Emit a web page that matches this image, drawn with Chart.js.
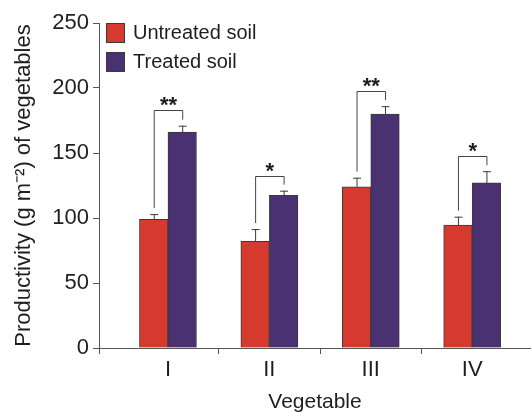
<!DOCTYPE html>
<html>
<head>
<meta charset="utf-8">
<script src="https://cdn.jsdelivr.net/npm/chart.js@4/dist/chart.umd.min.js"></script>
<style>
  html, body { margin: 0; padding: 0; background: #fff; }
  #wrap { width: 531px; height: 412px; position: relative; }
</style>
</head>
<body>
<div id="wrap"><canvas id="chart"></canvas></div>
<script>
const categories = ["I", "II", "III", "IV"];
const untreated = [99, 82, 124, 94.5];
const treated = [166, 117.5, 180, 127];
const untreatedErr = [4, 9.5, 7, 6.5];
const treatedErr = [5, 3.5, 6, 9];
const bracketTop = [183, 132, 198, 148];
const sigMarks = ["**", "*", "**", "*"];
const yTicks = [0, 50, 100, 150, 200, 250];

const FONT = "'Liberation Sans', Arial, Helvetica, sans-serif";
const INK = "#1e1e1e";
const AXIS = "#555";
const EDGE = "#3a3a3a";

// error bars, significance brackets and the legend box
const extras = {
  id: "extras",
  afterDatasetsDraw(chart) {
    const { ctx, chartArea } = chart;
    const y = chart.scales.y;
    const m0 = chart.getDatasetMeta(0).data;
    const m1 = chart.getDatasetMeta(1).data;
    ctx.save();
    ctx.strokeStyle = EDGE;
    ctx.lineWidth = 1;

    const errs = [untreatedErr, treatedErr];
    const vals = [untreated, treated];
    [m0, m1].forEach((bars, d) => {
      bars.forEach((b, i) => {
        const top = y.getPixelForValue(vals[d][i] + errs[d][i]);
        ctx.beginPath();
        ctx.moveTo(b.x + 0.5, b.y);
        ctx.lineTo(b.x + 0.5, top);
        ctx.moveTo(b.x - 3.5, top + 0.5);
        ctx.lineTo(b.x + 4.5, top + 0.5);
        ctx.stroke();
      });
    });

    ctx.strokeStyle = "#444";
    ctx.fillStyle = INK;
    ctx.font = "bold 22px " + FONT;
    ctx.textAlign = "center";
    ctx.textBaseline = "alphabetic";
    categories.forEach((c, i) => {
      const gap = 6;
      const xl = m0[i].x + 0.5;
      const xr = m1[i].x + 0.5;
      const yb = Math.round(y.getPixelForValue(bracketTop[i])) + 0.5;
      const yl = y.getPixelForValue(untreated[i] + untreatedErr[i]) - gap;
      const yr = y.getPixelForValue(treated[i] + treatedErr[i]) - gap;
      ctx.beginPath();
      ctx.moveTo(xl, yl);
      ctx.lineTo(xl, yb);
      ctx.lineTo(xr, yb);
      ctx.lineTo(xr, yr);
      ctx.stroke();
      ctx.fillText(sigMarks[i], (xl + xr) / 2, yb + 1);
    });

    // legend
    ctx.font = "20px " + FONT;
    ctx.textAlign = "left";
    ctx.textBaseline = "middle";
    chart.data.datasets.forEach((ds, k) => {
      const bx = chartArea.left + 7;
      const by = chartArea.top + k * 29;
      ctx.fillStyle = ds.backgroundColor;
      ctx.fillRect(bx, by, 19, 20);
      ctx.strokeStyle = EDGE;
      ctx.strokeRect(bx + 0.5, by + 0.5, 18, 19);
      ctx.fillStyle = INK;
      ctx.fillText(ds.label, bx + 27, by + 10);
    });
    ctx.restore();
  },
};

new Chart(document.getElementById("chart"), {
  type: "bar",
  data: {
    datasets: [
      {
        label: "Untreated soil",
        data: categories.map((c, i) => ({ x: i + 1, y: untreated[i] })),
        backgroundColor: "#d63a2e",
        borderColor: EDGE,
        borderWidth: 1,
      },
      {
        label: "Treated soil",
        data: categories.map((c, i) => ({ x: i + 1, y: treated[i] })),
        backgroundColor: "#4a3272",
        borderColor: EDGE,
        borderWidth: 1,
      },
    ],
  },
  options: {
    responsive: true,
    maintainAspectRatio: false,
    animation: false,
    barThickness: 28.5,
    layout: { padding: { top: 23, right: 0, left: 0, bottom: 0 } },
    plugins: { legend: { display: false }, tooltip: { enabled: false } },
    scales: {
      x: {
        type: "linear",
        offset: false,
        min: 0.32,
        max: 4.58,
        afterBuildTicks: (s) => {
          s.ticks = [0.32, 1, 1.5, 2, 2.5, 3, 3.5, 4].map((v) => ({ value: v }));
        },
        afterFit: (s) => { s.height = 64; },
        ticks: {
          autoSkip: false,
          maxRotation: 0,
          padding: 3,
          color: INK,
          font: { family: FONT, size: 22 },
          callback: (v) => (Number.isInteger(v) ? categories[v - 1] : ""),
        },
        grid: {
          offset: false,
          drawOnChartArea: false,
          tickLength: 6,
          color: (c) => (c.tick && Number.isInteger(c.tick.value) ? "rgba(0,0,0,0)" : AXIS),
        },
        border: { color: AXIS, width: 1 },
        title: {
          display: true,
          text: "Vegetable",
          color: INK,
          font: { family: FONT, size: 21 },
          padding: { top: 0, bottom: -3 },
        },
      },
      y: {
        min: 0,
        max: 250,
        afterBuildTicks: (s) => { s.ticks = yTicks.map((v) => ({ value: v })); },
        afterFit: (s) => { s.width = 99; },
        ticks: {
          padding: 4,
          color: INK,
          font: { family: FONT, size: 22 },
        },
        grid: { drawOnChartArea: false, tickLength: 6, color: AXIS },
        border: { color: AXIS, width: 1 },
        title: {
          display: true,
          text: "Productivity (g m\u207B\u00B2) of vegetables",
          color: INK,
          font: { family: FONT, size: 22 },
          padding: { top: 11, bottom: 0 },
        },
      },
    },
  },
  plugins: [extras],
});
</script>
</body>
</html>
